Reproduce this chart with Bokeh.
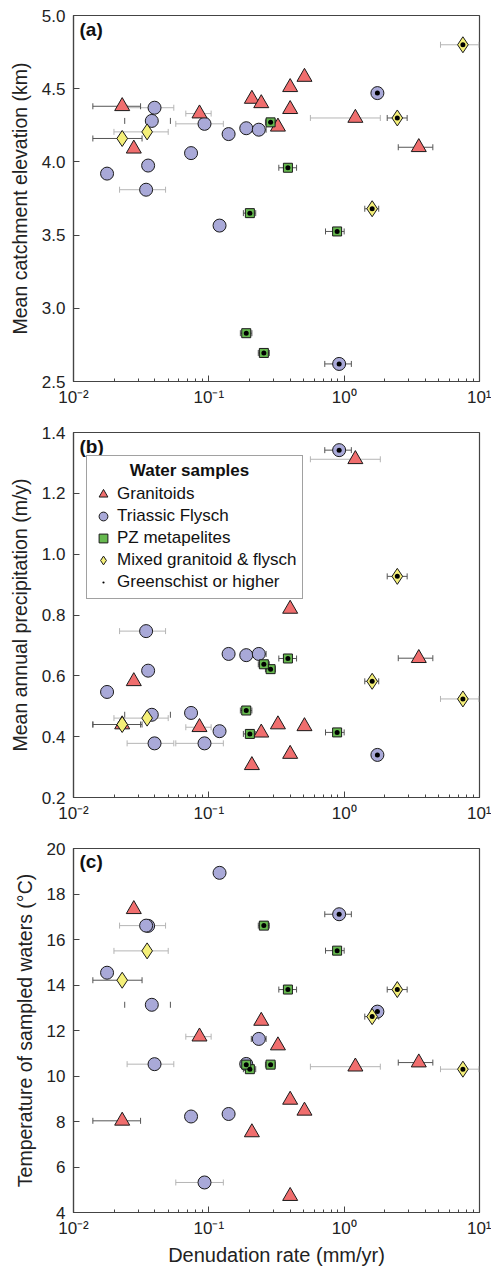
import math
from bokeh.plotting import figure
from bokeh.layouts import column
from bokeh.models import (ColumnDataSource, Whisker, TeeHead, FixedTicker, Legend,
                          LegendItem, Label, Range1d, PrintfTickFormatter)
from bokeh.embed import file_html
from bokeh.resources import INLINE

NAN = float("nan")

# ---------------- data ----------------
# Granitoids
gran_rate   = [0.0229, 0.0279, 0.0853, 0.208, 0.244, 0.324, 0.399, 0.399, 0.509, 1.21, 3.56]
gran_lo     = [0.0139, NAN, 0.0676, NAN, NAN, NAN, NAN, NAN, NAN, 0.563, 2.51]
gran_hi     = [0.0313, NAN, 0.104, NAN, NAN, NAN, NAN, NAN, NAN, 1.85, 4.52]
gran_elev   = [4.38, 4.09, 4.33, 4.43, 4.40, 4.24, 4.51, 4.36, 4.58, 4.30, 4.10]
gran_precip = [0.44, 0.582, 0.431, 0.306, 0.413, 0.440, 0.820, 0.343, 0.434, 1.312, 0.658]
gran_temp   = [8.03, 17.33, 11.73, 7.52, 12.42, 11.34, 8.95, 4.72, 8.47, 10.41, 10.59]
gran_gs     = [False] * 11

# Triassic Flysch
flys_rate   = [0.0397, 0.0379, 0.0929, 0.140, 0.189, 0.234, 0.0739, 0.0356, 0.0177, 0.0344, 1.76, 0.120, 0.918]
flys_lo     = [0.0249, 0.0239, 0.0570, NAN, NAN, 0.206, NAN, NAN, NAN, 0.0219, NAN, NAN, 0.719]
flys_hi     = [0.0551, 0.0520, 0.128, NAN, NAN, 0.265, NAN, NAN, NAN, 0.0479, NAN, NAN, 1.13]
flys_elev   = [4.37, 4.28, 4.26, 4.19, 4.23, 4.22, 4.06, 3.975, 3.92, 3.81, 4.47, 3.565, 2.62]
flys_precip = [0.378, 0.472, 0.378, 0.672, 0.668, 0.672, 0.478, 0.617, 0.547, 0.747, 0.340, 0.418, 1.342]
flys_temp   = [10.52, 13.13, 5.32, 8.33, 10.53, 11.63, 8.22, 16.6, 14.54, 16.61, 12.83, 18.93, 17.11]
flys_gs     = [False] * 10 + [True, False, True]

# PZ metapelites
meta_rate   = [0.286, 0.384, 0.201, 0.887, 0.189, 0.255]
meta_lo     = [0.262, 0.329, 0.180, 0.728, 0.171, 0.232]
meta_hi     = [0.310, 0.445, 0.222, 1.00, 0.208, 0.280]
meta_elev   = [4.27, 3.96, 3.65, 3.525, 2.83, 2.695]
meta_precip = [0.622, 0.657, 0.409, 0.414, 0.486, 0.638]
meta_temp   = [10.50, 13.80, 10.30, 15.51, 10.50, 16.61]
meta_gs     = [True] * 6

# Mixed granitoid & flysch
mixd_rate   = [0.0229, 0.035, 7.54, 2.47, 1.61]
mixd_lo     = [0.0139, 0.0199, 5.15, 2.08, 1.42]
mixd_hi     = [0.0321, 0.0501, 9.9, 2.92, 1.80]
mixd_elev   = [4.16, 4.205, 4.80, 4.30, 3.68]
mixd_precip = [0.440, 0.461, 0.524, 0.927, 0.582]
mixd_temp   = [14.21, 15.50, 10.30, 13.80, 12.61]
mixd_gs     = [False, False, True, True, True]

x_ticks = [0.01, 0.1, 1, 10]
x_tick_labels = ["10\u207b\u00b2", "10\u207b\u00b9", "10\u2070", "10\u00b9"]

# ---------------- styling ----------------
# error-bar tone per point: d = dark, l = light, c = caps only
gran_tone = ["d", "", "l", "", "", "", "", "", "", "l", "d"]
flys_tone = ["l", "c", "l", "", "", "d", "", "", "", "l", "", "", "d"]
meta_tone = ["d"] * 6
mixd_tone = ["d", "l", "l", "d", "d"]

TONES = {"d": ("#555555", 1.0), "l": ("#b5b5b5", 1.0), "c": ("#555555", 0.0)}

SERIES = [
    dict(key="flys", label="Triassic Flysch", marker="circle", size=13, color="#a9a9d8",
         rate=flys_rate, lo=flys_lo, hi=flys_hi, elev=flys_elev, precip=flys_precip,
         temp=flys_temp, gs=flys_gs, tone=flys_tone),
    dict(key="gran", label="Granitoids", marker="triangle", size=15, color="#f06e6e",
         rate=gran_rate, lo=gran_lo, hi=gran_hi, elev=gran_elev, precip=gran_precip,
         temp=gran_temp, gs=gran_gs, tone=gran_tone),
    dict(key="meta", label="PZ metapelites", marker="square", size=9, color="#66b94f",
         rate=meta_rate, lo=meta_lo, hi=meta_hi, elev=meta_elev, precip=meta_precip,
         temp=meta_temp, gs=meta_gs, tone=meta_tone),
    dict(key="mixd", label="Mixed granitoid & flysch", marker="diamond", size=16, color="#f4ef78",
         rate=mixd_rate, lo=mixd_lo, hi=mixd_hi, elev=mixd_elev, precip=mixd_precip,
         temp=mixd_temp, gs=mixd_gs, tone=mixd_tone),
]

PANELS = [
    dict(field="elev", ylabel="Mean catchment elevation (km)", yr=(2.5, 5.0),
         yticks=[2.5, 3.0, 3.5, 4.0, 4.5, 5.0], fmt="%.1f", tag="(a)",
         height=420, top=15, bottom=39, xlabel=None, legend=False),
    dict(field="precip", ylabel="Mean annual precipitation (m/y)", yr=(0.2, 1.4),
         yticks=[0.2, 0.4, 0.6, 0.8, 1.0, 1.2, 1.4], fmt="%.1f", tag="(b)",
         height=420, top=12, bottom=43, xlabel=None, legend=True),
    dict(field="temp", ylabel="Temperature of sampled waters (\u00b0C)", yr=(4, 20),
         yticks=[4, 6, 8, 10, 12, 14, 16, 18, 20], fmt="%d", tag="(c)",
         height=428, top=8, bottom=55, xlabel="Denudation rate (mm/yr)", legend=False),
]

FONT = "Liberation Sans"
AX = "#444444"

minor = [k * 10.0 ** e for e in (-2, -1, 0) for k in range(2, 10)]

figs = []
for pan in PANELS:
    p = figure(width=491, height=pan["height"], x_axis_type="log",
               x_range=Range1d(0.01, 10), y_range=Range1d(*pan["yr"]),
               output_backend="svg", toolbar_location=None,
               min_border_left=73, min_border_right=12,
               min_border_top=pan["top"], min_border_bottom=pan["bottom"])
    p.grid.visible = False
    p.outline_line_color = AX
    p.outline_line_width = 1.2
    p.background_fill_color = "white"
    p.border_fill_color = "white"

    xa = p.xaxis[0]
    xa.ticker = FixedTicker(ticks=x_ticks, minor_ticks=minor)
    xa.major_label_overrides = {t: l for t, l in zip(x_ticks, x_tick_labels)}
    ya = p.yaxis[0]
    ya.ticker = FixedTicker(ticks=pan["yticks"])
    ya.formatter = PrintfTickFormatter(format=pan["fmt"])
    for ax in (xa, ya):
        ax.axis_line_color = AX
        ax.axis_line_width = 1.2
        ax.major_tick_line_color = AX
        ax.minor_tick_line_color = AX
        ax.major_tick_in = 6
        ax.major_tick_out = 0
        ax.minor_tick_in = 3
        ax.minor_tick_out = 0
        ax.major_label_text_font = FONT
        ax.major_label_text_font_size = "17px"
        ax.major_label_text_color = "#222222"
        ax.axis_label_text_font = FONT
        ax.axis_label_text_font_size = "20px"
        ax.axis_label_text_font_style = "normal"
        ax.axis_label_text_color = "#222222"
    ya.minor_tick_line_color = None
    ya.major_label_standoff = 8
    ya.axis_label_standoff = 8
    ya.axis_label_text_font_size = "19.5px"
    ya.axis_label = pan["ylabel"]
    xa.major_label_standoff = 6
    xa.axis_label_standoff = 3
    if pan["xlabel"]:
        xa.axis_label = pan["xlabel"]

    f = pan["field"]
    # error bars
    for s in SERIES:
        for tone, (col, alpha) in TONES.items():
            rows = [i for i in range(len(s["rate"]))
                    if s["tone"][i] == tone and not math.isnan(s["lo"][i])]
            if not rows:
                continue
            src = ColumnDataSource(dict(y=[s[f][i] for i in rows],
                                        lo=[s["lo"][i] for i in rows],
                                        hi=[s["hi"][i] for i in rows]))
            w = Whisker(source=src, base="y", lower="lo", upper="hi", dimension="width",
                        line_color=col, line_alpha=alpha, line_width=1, level="underlay",
                        lower_head=TeeHead(size=6, line_color=col, line_width=1),
                        upper_head=TeeHead(size=6, line_color=col, line_width=1))
            p.add_layout(w)

    rends = {}
    for s in SERIES:
        src = ColumnDataSource(dict(x=s["rate"], y=s[f]))
        r = p.scatter("x", "y", source=src, marker=s["marker"], size=s["size"],
                      fill_color=s["color"], line_color="#1a1a1a", line_width=1)
        rends[s["key"]] = r
    dx, dy = [], []
    for s in SERIES:
        for i in range(len(s["rate"])):
            if s["gs"][i]:
                dx.append(s["rate"][i])
                dy.append(s[f][i])
    rdot = p.scatter(dx, dy, marker="dot", size=20, line_color="black",
                     fill_color="black", line_width=1)

    y0, y1 = pan["yr"]
    tag = Label(x=10 ** (-2 + 6 / 135.4), y=y1 - (y1 - y0) * 3 / 365, text=pan["tag"],
                text_font=FONT, text_font_size="19px", text_font_style="bold",
                text_baseline="top", text_align="left", text_color="#111111")
    p.add_layout(tag)

    if pan["legend"]:
        items = [LegendItem(label="Granitoids", renderers=[rends["gran"]]),
                 LegendItem(label="Triassic Flysch", renderers=[rends["flys"]]),
                 LegendItem(label="PZ metapelites", renderers=[rends["meta"]]),
                 LegendItem(label="Mixed granitoid & flysch", renderers=[rends["mixd"]]),
                 LegendItem(label="Greenschist or higher", renderers=[rdot])]
        lg = Legend(items=items, location=(13, 198),
                    title="\u00a0" * 8 + "Water samples",
                    title_text_font=FONT, title_text_font_size="17px",
                    title_text_font_style="bold", title_text_color="#111111",
                    title_standoff=2,
                    label_text_font=FONT, label_text_font_size="17px",
                    label_text_color="#111111",
                    label_height=22, glyph_height=22, glyph_width=22, label_standoff=3,
                    spacing=0, padding=5, margin=0,
                    border_line_color=AX, border_line_width=1.2,
                    background_fill_color="white", background_fill_alpha=1.0)
        p.add_layout(lg)
    figs.append(p)

layout = column(*figs, spacing=0)
open("out.html", "w").write(file_html(layout, INLINE))
